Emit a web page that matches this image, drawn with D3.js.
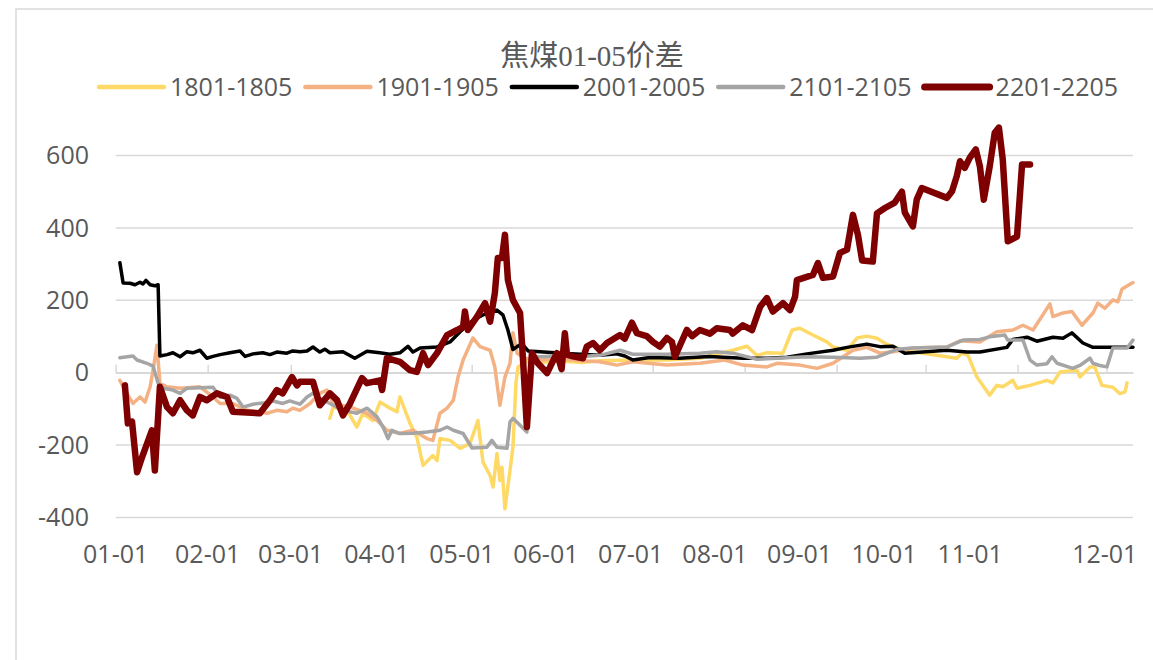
<!DOCTYPE html>
<html>
<head>
<meta charset="utf-8">
<script src="https://cdn.jsdelivr.net/npm/d3@7"></script>
<style>
body { margin: 0; background: #fff; }
text { font-family: "Open Sans", "Noto Sans CJK SC", sans-serif; fill: #595959; }
.title { font-family: "Liberation Serif", "Noto Sans CJK SC", serif; }
</style>
</head>
<body>
<div id="chart"></div>
<script>

// x = day of year (0 = 01-01), y = spread value
var s1801 = [[72.2,-126],[73.3,-95],[78,-104],[81.3,-150],[83.3,-112],[86.7,-132],[89.1,-81],[91.8,-95],[94.8,-108],[95.8,-67],
  [99.2,-140],[101.5,-178],[103.6,-256],[106.9,-229],[108.3,-243],[109.3,-182],[112.7,-187],[116.1,-209],[119.4,-196],[122.1,-132],
  [123.8,-247],[126.2,-284],[127.2,-316],[128.5,-223],[129.5,-298],[130.2,-261],[131.2,-376],[132.9,-270],[133.9,-206],[134.9,-29],
  [135.6,16],[138,30],[143,28],[150,32],[157,28],[163.2,33],[174.3,35],[185.8,35],[196.9,40],[208,62],[212.8,73],[216.1,48],
  [219.5,55],[224.9,54],[228,118],[230.6,123],[235,104],[239.7,85],[241.8,71],[246.5,62],[249.9,96],[253.2,101],[256.6,95],
  [260,78],[263.3,68],[268.7,58],[283.5,40],[285.2,54],[287.3,48],[290.3,-12],[294.6,-62],[297,-35],[299,-39],[302.4,-21],
  [303.8,-43],[308.2,-35],[313.9,-21],[315.9,-28],[318.3,2],[324,7],[325,-12],[328.4,16],[330,16],[332.4,-35],[336.1,-40],
  [338.5,-58],[340.2,-53],[340.9,-28]];

var s1901 = [[1.4,-21],[3.8,-57],[5.8,-85],[8.2,-67],[9.9,-81],[11.6,-39],[12.6,7],[13.9,76],[14.9,-29],[17.3,-39],[21.7,-43],
  [28.4,-39],[32.8,-67],[35.2,-85],[39.5,-85],[44.3,-104],[51,-112],[54.3,-104],[57.7,-108],[59.7,-98],[62.1,-104],[65.5,-85],
  [68.8,-57],[71.2,-48],[73.3,-85],[79,-95],[84.7,-112],[88.1,-132],[91.4,-159],[95.8,-168],[100.2,-159],[104.9,-182],[106.9,-187],
  [109.3,-112],[111.7,-98],[113.8,-76],[115.4,-12],[117.1,35],[120.4,96],[122.8,72],[126.2,62],[127.8,16],[129.5,-90],[131.2,-12],
  [132.9,26],[133.9,110],[135.3,54],[138,40],[143,35],[150,38],[157,33],[163.2,30],[168.9,21],[174.3,30],[185.8,21],[196.9,26],
  [205.3,35],[211.4,21],[219.5,16],[222.9,26],[230.6,21],[236.4,12],[241.8,26],[248.5,62],[253.2,70],[257.6,54],[262,58],
  [268.7,68],[280.2,71],[284.6,88],[291.3,85],[297,113],[302.4,118],[305.8,131],[309.2,118],[314.9,190],[315.9,155],[319.3,165],
  [322.3,169],[325.7,131],[329.4,165],[331,192],[333.4,178],[336.1,201],[337.8,196],[339.2,231],[342.9,249]];

var s2001 = [[1.4,304],[2.5,248],[4.8,247],[6.5,243],[8.2,250],[9.2,245],[10.2,255],[11.6,243],[13.2,240],[14.3,243],[14.9,46],
  [17.3,50],[19.3,55],[21.7,44],[24,58],[26,55],[28.4,62],[30.7,40],[32.8,45],[35.2,50],[38.5,55],[41.9,60],[43.6,45],[46.3,52],
  [49.6,55],[52,50],[54.3,57],[57.7,54],[59.7,60],[62.1,58],[64.5,60],[66.5,71],[68.8,57],[70.5,65],[72.2,55],[76.6,58],[80.6,40],
  [84.7,59],[89,55],[92.4,51],[95.8,55],[98.5,73],[100.2,57],[102.6,68],[108.3,71],[112.7,85],[116.1,113],[120.4,145],[125.1,165],
  [128.5,173],[130.5,160],[132.2,118],[133.9,64],[135.3,72],[137,80],[139,60],[143,58],[148,55],[155,52],[163.2,48],[168.9,52],
  [171.6,46],[174.3,35],[180,42],[190,40],[200,45],[211.4,40],[220,40],[226.3,43],[233,52],[241.8,62],[246.5,70],[253.2,79],
  [257.6,72],[262,73],[266,54],[280.2,62],[286.9,57],[291.3,57],[300.4,70],[302.4,92],[307.2,98],[310.5,87],[315.9,98],[319.3,95],
  [322.3,110],[326,82],[329.4,70],[335.1,70],[342.9,70]];

var s2101 = [[1.4,41],[5.8,46],[7.2,35],[10.5,26],[12.6,18],[14.3,-29],[15.9,-43],[19.3,-48],[21.7,-57],[24,-43],[32.8,-40],
  [35.2,-68],[38.5,-62],[40.9,-71],[42.9,-95],[46.3,-87],[49.6,-84],[53,-78],[56.3,-85],[58.7,-78],[62.1,-87],[64.5,-67],[66.5,-57],
  [68.8,-71],[72.2,-85],[76.6,-104],[81.3,-112],[84.7,-98],[88.1,-122],[90.1,-150],[91.8,-182],[93.1,-159],[95.8,-168],[100.2,-167],
  [104.9,-164],[109.3,-159],[111.7,-150],[113.8,-159],[117.1,-168],[120.1,-208],[125.1,-206],[126.8,-187],[128.5,-206],[131.9,-209],
  [132.9,-136],[133.9,-126],[138.6,-164],[140.6,44],[143,44],[150,47],[157,45],[163.2,48],[170,62],[174.3,51],[185.8,51],[196.9,54],
  [202.6,58],[208,54],[216.1,37],[222.9,40],[233,44],[241.8,43],[250.9,40],[256.6,43],[262,60],[263.3,65],[268.7,68],[280.2,71],
  [285.6,90],[291.3,92],[294.6,99],[299.7,104],[300.7,90],[305.8,90],[308.2,35],[310.5,21],[313.9,25],[315.6,44],[317.3,26],
  [322.6,12],[325,20],[328.4,40],[329.4,26],[331.7,20],[334.1,16],[336.1,68],[340.9,68],[342.9,90]];

var s2201 = [[3.1,-35],[4.1,-140],[5.5,-135],[7.2,-275],[8.9,-233],[12.2,-159],[13.2,-270],[14.9,-39],[17.3,-95],[19.3,-112],
  [21.7,-76],[24,-104],[26,-118],[28.4,-67],[30.7,-76],[34.1,-57],[37.5,-67],[39.5,-108],[48.6,-112],[52,-76],[54.3,-48],[56.3,-57],
  [59.4,-12],[61.1,-35],[62.1,-25],[66.5,-25],[68.8,-90],[72.2,-57],[74.6,-76],[76.6,-118],[79,-85],[83,-15],[84.7,-29],[89.1,-21],
  [89.8,-48],[91.4,40],[95.8,30],[99.2,7],[101.5,2],[103.6,54],[105.3,21],[108.3,54],[111.7,104],[115.1,118],[117.1,127],[117.7,169],
  [118.7,118],[121.8,155],[124.5,192],[126.2,141],[127.8,220],[128.8,317],[130.2,317],[131.2,381],[132.2,256],[133.9,201],[136.3,165],
  [137.3,35],[138.6,-150],[140.3,54],[142.3,26],[145.4,-1],[148.7,54],[150.3,10],[151.4,109],[152.1,50],[154.1,45],[157.5,40],
  [158.8,72],[160.9,82],[163.2,62],[165.6,82],[170,104],[171.6,94],[174,138],[175.7,109],[179,101],[181.1,85],[183.4,72],[185.8,96],
  [187.5,85],[188.5,44],[192.5,118],[194.3,101],[196.9,118],[200.3,108],[202.6,123],[207,118],[208,108],[211.4,131],[214.5,118],
  [217.2,182],[219.5,206],[221.5,169],[224.9,192],[227.3,173],[229,210],[229.6,256],[235,270],[236.7,303],[238.4,262],[241.8,266],
  [244.1,331],[246.5,340],[248.5,436],[250.2,380],[251.6,310],[255.2,307],[256.6,440],[259.3,455],[262.6,470],[265,500],[266,442],
  [268.7,404],[270,478],[271.7,510],[280.2,483],[281.9,501],[283.5,543],[284.6,584],[286.2,566],[287.9,594],[289.9,617],[291.3,570],
  [292.6,478],[294.6,570],[296.3,663],[297.7,677],[299,589],[300.7,363],[303.8,376],[305.5,575],[308.2,575]];

var seriesNames = ["1801-1805", "1901-1905", "2001-2005", "2101-2105", "2201-2205"];
var seriesData = [s1801, s1901, s2001, s2101, s2201];
var colors = ["#FFD966", "#F4B183", "#000000", "#A5A5A5", "#7F0000"];
var widths = [3.5, 3.5, 3.5, 3.5, 6.5];

var yTicks = [-400, -200, 0, 200, 400, 600];
var monthStarts = [0, 31, 59, 90, 120, 151, 181, 212, 243, 273, 304, 334];
var xLabels = ["01-01","02-01","03-01","04-01","05-01","06-01","07-01","08-01","09-01","10-01","11-01","12-01"];
var xLabelDays = [0, 31, 59, 88, 116.7, 145, 173.6, 202, 230.5, 259, 288, 333.4];

var W = 1153, H = 660;
var svg = d3.select("#chart").append("svg")
  .attr("width", W).attr("height", H);

// outer frame (runs off the right/bottom edge like the source)
svg.append("rect")
  .attr("x", 16).attr("y", 9).attr("width", 1200).attr("height", 700)
  .attr("fill", "none").attr("stroke", "#d9d9d9").attr("stroke-width", 1.5);

var x = d3.scaleLinear().domain([0, 342.9]).range([115.7, 1133]);
var y = d3.scaleLinear().domain([-400, 600]).range([517.5, 155.5]);

// gridlines
svg.append("g").selectAll("line").data(yTicks).enter().append("line")
  .attr("x1", x(0)).attr("x2", x(342.9))
  .attr("y1", function(d){ return y(d); }).attr("y2", function(d){ return y(d); })
  .attr("stroke", "#d9d9d9").attr("stroke-width", 1.5);

// y labels
svg.append("g").selectAll("text").data(yTicks).enter().append("text")
  .attr("x", 89).attr("y", function(d){ return y(d); })
  .attr("dy", "0.35em").attr("text-anchor", "end")
  .style("font-size", "25px")
  .text(function(d){ return d; });

// x axis at zero with month ticks pointing up
var xAxis = svg.append("g")
  .attr("transform", "translate(0," + y(0) + ")")
  .call(d3.axisBottom(x).tickValues(monthStarts).tickSizeInner(-8).tickSizeOuter(0).tickFormat(""));
xAxis.select(".domain").attr("stroke", "#d9d9d9").attr("stroke-width", 1.5);
xAxis.selectAll(".tick line").attr("stroke", "#d9d9d9").attr("stroke-width", 1.5);

svg.append("g").selectAll("text").data(xLabelDays).enter().append("text")
  .attr("x", function(d){ return x(d); }).attr("y", 563)
  .attr("text-anchor", "middle")
  .style("font-size", "25px")
  .text(function(d, i){ return xLabels[i]; });

// lines
var line = d3.line()
  .x(function(d){ return x(d[0]); })
  .y(function(d){ return y(d[1]); });

seriesData.forEach(function(s, i) {
  svg.append("path")
    .datum(s)
    .attr("fill", "none")
    .attr("stroke", colors[i])
    .attr("stroke-width", widths[i])
    .attr("stroke-linejoin", "round")
    .attr("stroke-linecap", "round")
    .attr("d", line);
});

// title
svg.append("text")
  .attr("class", "title")
  .attr("x", 592).attr("y", 66)
  .attr("text-anchor", "middle")
  .style("font-size", "29px")
  .text("焦煤01-05价差");

// legend
var legend = svg.append("g");
var cx = 0;
seriesNames.forEach(function(name, i) {
  var g = legend.append("g").attr("transform", "translate(" + cx + ",0)");
  g.append("line")
    .attr("x1", 0).attr("x2", 65).attr("y1", 0).attr("y2", 0)
    .attr("stroke", colors[i]).attr("stroke-width", i == 4 ? 7 : 4.5)
    .attr("stroke-linecap", "round");
  var t = g.append("text")
    .attr("x", 71).attr("dy", "0.35em")
    .style("font-size", "25px")
    .text(name);
  cx += 71 + t.node().getComputedTextLength() + 13;
});
var legendW = cx - 13;
legend.attr("transform", "translate(" + (608.5 - legendW / 2) + ",87)");

</script>
</body>
</html>
